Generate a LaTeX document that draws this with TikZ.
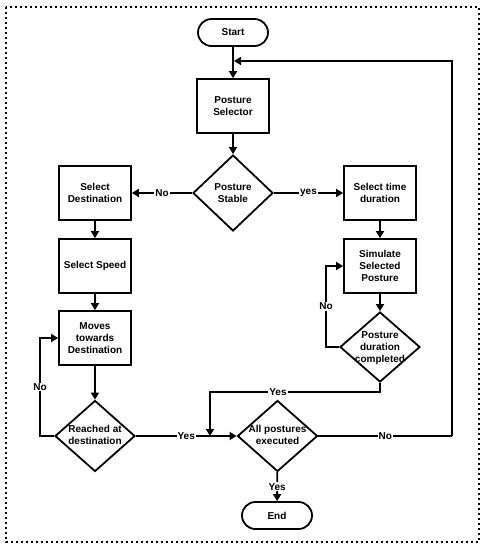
\documentclass[tikz,border=0pt]{standalone}
\usepackage{fontspec}
\setmainfont{Liberation Sans}
\usetikzlibrary{shapes.geometric,shapes.misc,arrows.meta}
\begin{document}
\begin{tikzpicture}[x=1pt,y=-1pt,
  every node/.style={font=\bfseries\fontsize{10}{11.7}\selectfont},
  base/.style={draw,line width=1.8pt,align=center,inner sep=1pt},
  term/.style={base,rounded rectangle,minimum width=72pt,minimum height=27pt},
  procbox/.style={base,rectangle,minimum width=72pt,minimum height=54pt},
  dia/.style={base,diamond,inner sep=0pt,minimum width=80pt,minimum height=#1},
  dtext/.style={align=center,inner sep=0pt},
  arr/.style={line width=1.8pt,-{Triangle[length=7pt,width=8pt]}},
  lab/.style={fill=white,inner sep=1pt}]
\useasboundingbox (0,0) rectangle (486,550);
\draw[line width=1.6pt,dash pattern=on 1.6pt off 3.4pt] (6,7) rectangle (479,542);

\node[term] (start) at (233,32.5) {Start};
\node[procbox] (ps) at (233,106) {Posture\\Selector};
\node[dia=76pt] (d1) at (233,193) {};
\node[dtext] (d1t) at (d1) {Posture\\Stable};
\node[procbox] (sd) at (95,193) {Select\\Destination};
\node[procbox] (st) at (380,193) {Select time\\duration};
\node[procbox] (ss) at (95,266) {Select Speed};
\node[procbox] (mv) at (95,338) {Moves\\towards\\Destination};
\node[procbox] (sim) at (380,266) {Simulate\\Selected\\Posture};
\node[dia=70pt] (d2) at (380,347) {};
\node[dtext] (d2t) at (380,348) {Posture\\duration\\completed};
\node[dia=71pt] (d3) at (95,436) {};
\node[dtext] (d3t) at (95,435) {Reached at\\destination};
\node[dia=71pt] (d4) at (277.5,436) {};
\node[dtext] (d4t) at (277.5,435) {All postures\\executed};
\node[term] (end) at (277,515.5) {End};

\coordinate (j) at (210,436);
\coordinate (rc) at (452,436);
\coordinate (top) at (234,61);

\draw[arr] (start) -- (ps);
\draw[arr] (ps) -- (d1);
\draw[arr] (d1.west) -- node[lab]{No} (sd.east);
\draw[arr] (d1.east) -- node[lab]{yes} (st.west);
\draw[arr] (sd) -- (ss);
\draw[arr] (ss) -- (mv);
\draw[arr] (mv) -- (d3);
\draw[arr] (st) -- (sim);
\draw[arr] (sim) -- (d2);
\draw[arr] (d2.west) -- ++(-13,0) |- node[lab,pos=0.25]{No} (sim.west);
\draw[arr] (d3.west) -- ++(-14,0) |- node[lab,pos=0.25]{No} (mv.west);
\draw[arr] (d3.east) -- node[lab]{Yes} (d4.west);
\draw[arr] (d2.south) -- ++(0,9) -| node[lab,pos=0.3]{Yes} (j);
\draw[line width=1.8pt] (d4.east) -- node[lab]{No} (rc);
\draw[arr] (rc) |- (top);
\draw[arr] (d4) -- node[lab]{Yes} (end);
\end{tikzpicture}
\end{document}
